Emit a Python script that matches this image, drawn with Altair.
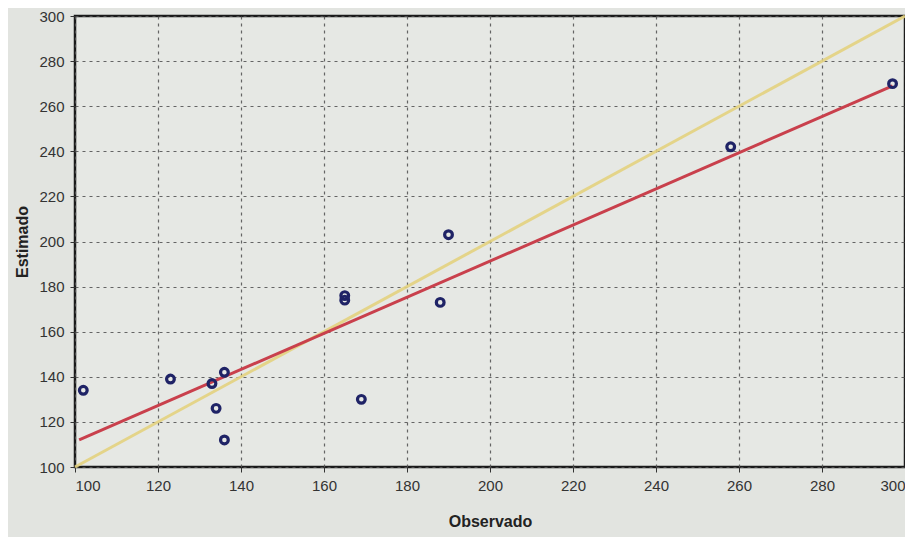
import altair as alt
import pandas as pd

observado = [102, 123, 133, 134, 136, 136, 165, 165, 169, 188, 190, 258, 297]
estimado = [134, 139, 137, 126, 142, 112, 176, 174, 130, 173, 203, 242, 270]

# Fitted regression line (red) endpoints
fit_x = [101, 297]
fit_y = [112, 269]

# 1:1 reference line (yellow)
ref_x = [100, 300]
ref_y = [100, 300]

pts = pd.DataFrame({"Observado": observado, "Estimado": estimado})
fit = pd.DataFrame({"Observado": fit_x, "Estimado": fit_y})
ref = pd.DataFrame({"Observado": ref_x, "Estimado": ref_y})

xscale = alt.Scale(domain=[100, 300], nice=False, zero=False)
yscale = alt.Scale(domain=[100, 300], nice=False, zero=False)
ticks = list(range(100, 301, 20))

xaxis = alt.Axis(values=ticks, title="Observado", grid=True)
yaxis = alt.Axis(values=ticks, title="Estimado", grid=True)

ref_line = alt.Chart(ref).mark_line(color="#e3d27e", strokeWidth=3, opacity=0.9).encode(
    x=alt.X("Observado:Q", scale=xscale, axis=xaxis),
    y=alt.Y("Estimado:Q", scale=yscale, axis=yaxis),
)

fit_line = alt.Chart(fit).mark_line(color="#c9404c", strokeWidth=3).encode(
    x=alt.X("Observado:Q", scale=xscale),
    y=alt.Y("Estimado:Q", scale=yscale),
)

points = alt.Chart(pts).mark_point(
    shape="circle", filled=False, color="#1f2366", size=60, strokeWidth=3.2, opacity=1
).encode(
    x=alt.X("Observado:Q", scale=xscale),
    y=alt.Y("Estimado:Q", scale=yscale),
)

chart = (
    alt.layer(ref_line, fit_line, points)
    .properties(
        width=830,
        height=451,
        autosize=alt.AutoSizeParams(type="none"),
        padding={"left": 67, "top": 8, "right": 0, "bottom": 70},
        background="#e2e4e0",
    )
    .configure_view(stroke="#1a1a1a", strokeWidth=2.5, fill="#e6e8e4")
    .configure_axis(
        domain=False,
        gridColor="#555555",
        gridDash=[3, 4],
        gridWidth=1.2,
        gridOpacity=0.9,
        tickColor="#333333",
        tickSize=5,
        labelFont="Liberation Sans",
        labelFontSize=15,
        labelColor="#333333",
        titleFont="Liberation Sans",
        titleFontSize=16,
        titleFontWeight="bold",
        titleColor="#222222",
        labelPadding=6,
    )
    .configure_axisX(titlePadding=20)
    .configure_axisY(titlePadding=8)
)

chart.save("out.html", embed_options={"renderer": "svg", "actions": False})
